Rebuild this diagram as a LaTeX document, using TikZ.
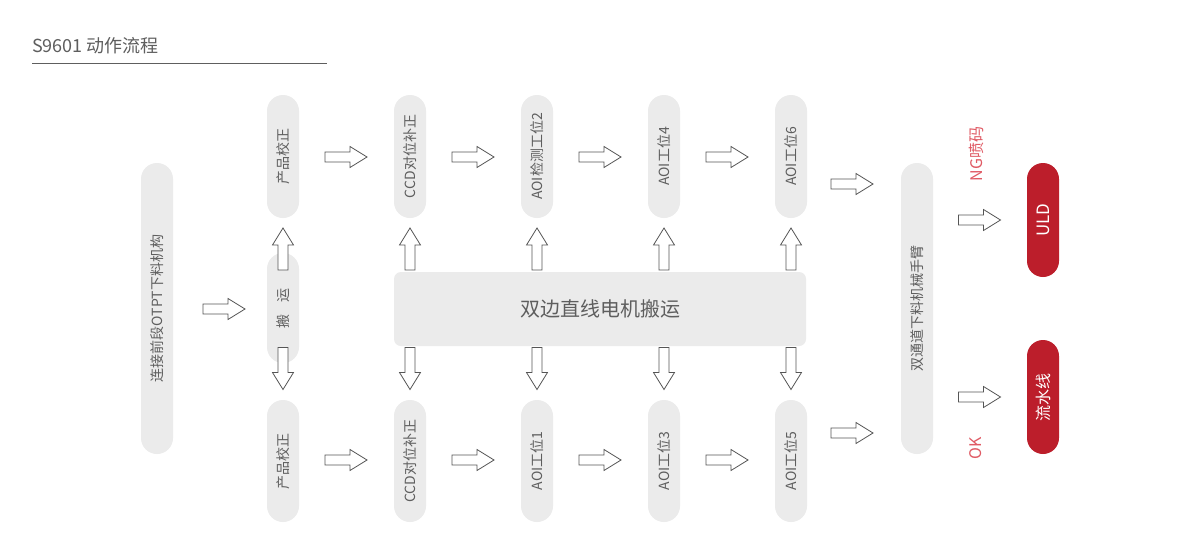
\documentclass[tikz,border=0pt]{standalone}
\usepackage{fontspec}
\setmainfont{Noto Sans CJK SC}
\definecolor{pillgray}{HTML}{EBEBEB}
\definecolor{txtgray}{HTML}{5E5E5E}
\definecolor{uldred}{HTML}{BC1E2B}
\definecolor{ngred}{HTML}{E05A64}
\definecolor{arrowline}{HTML}{555555}
\begin{document}
\begin{tikzpicture}[x=1pt,y=-1pt,
  pill/.style={fill=pillgray, rounded corners=16pt, minimum height=32pt, inner sep=0pt,
    text=txtgray, font=\fontsize{14}{14}\selectfont, rotate=90},
  redpill/.style={pill, fill=uldred, text=white, font=\fontsize{16}{16}\selectfont},
  tag/.style={text=ngred, font=\fontsize{16}{16}\selectfont, rotate=90, inner sep=0pt},
  barrow/.pic={\draw[arrowline, line width=0.8pt, fill=white, line join=miter]
    (-21,-5) -- (4,-5) -- (4,-10.5) -- (21,0) -- (4,10.5) -- (4,5) -- (-21,5) -- cycle;}
]
\fill[white] (0,0) rectangle (1200,544);
\useasboundingbox (0,0) rectangle (1200,544);

% title
\node[anchor=base west, text=txtgray, font=\fontsize{18}{18}\selectfont, inner sep=0pt]
  (title) at (32,52) {S9601 动作流程};
\coordinate (tl1) at (32,63);
\coordinate (tl2) at (327,63);
\draw[txtgray, line width=0.9pt] (tl1) -- (tl2);

% pills
\node[pill, minimum width=291pt] (otpt) at (157,308.5) {连接前段OTPT下料机构};
\node[pill, minimum width=123pt] (t1) at (283,156.5) {产品校正};
\node[pill, minimum width=110pt] (by) at (283,308) {搬\hspace{12pt}运};
\node[pill, minimum width=122pt] (b1) at (283,461) {产品校正};
\node[pill, minimum width=123pt] (t2) at (410,156.5) {CCD对位补正};
\node[pill, minimum width=122pt] (b2) at (410,461) {CCD对位补正};
\node[pill, minimum width=123pt] (t3) at (537,156.5) {AOI检测工位2};
\node[pill, minimum width=122pt] (b3) at (537,461) {AOI工位1};
\node[pill, minimum width=123pt] (t4) at (664,156.5) {AOI工位4};
\node[pill, minimum width=122pt] (b4) at (664,461) {AOI工位3};
\node[pill, minimum width=123pt] (t5) at (791,156.5) {AOI工位6};
\node[pill, minimum width=122pt] (b5) at (791,461) {AOI工位5};
\node[pill, minimum width=291pt] (arm) at (917,308.5) {双通道下料机械手臂};
\node[redpill, minimum width=114pt, font=\fontsize{17}{17}\selectfont] (uld) at (1043,220) {ULD};
\node[redpill, minimum width=114pt] (flow) at (1043,397) {流水线};

% belt
\node[fill=pillgray, rounded corners=7pt, minimum width=412pt, minimum height=74pt,
  inner sep=0pt, text=txtgray, font=\fontsize{20}{20}\selectfont] (belt) at (600,309) {双边直线电机搬运};

% tags
\node[tag] (ng) at (976,154) {NG喷码};
\node[tag] (ok) at (976,448) {OK};

% arrows
\pic at (224,309) {barrow};
\foreach \x in {346,473,600,727} {
  \pic at (\x,157) {barrow};
  \pic at (\x,460) {barrow};
}
\foreach \x in {283,410,537,664,791} {
  \pic[rotate=90] at (\x,249) {barrow};
  \pic[rotate=-90] at (\x,368.5) {barrow};
}
\pic at (852,184) {barrow};
\pic at (852,433) {barrow};
\pic at (979.5,220) {barrow};
\pic at (979.5,397) {barrow};
\end{tikzpicture}
\end{document}
